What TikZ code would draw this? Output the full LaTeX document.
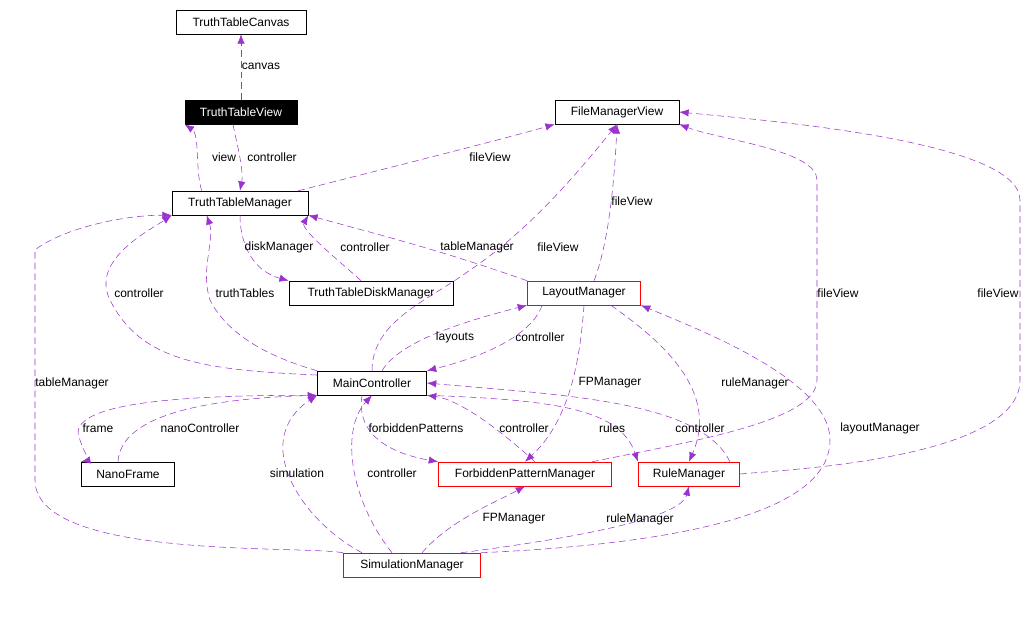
\documentclass[tikz,border=0pt]{standalone}
\usepackage{fontspec}
\setmainfont{Liberation Sans}
\usetikzlibrary{arrows.meta}
\definecolor{ep}{HTML}{9A32CD}
\begin{document}
\begin{tikzpicture}[x=0.75pt,y=-0.75pt,
  box/.style={draw=black,fill=white,minimum height=18pt,inner sep=1pt,font=\fontsize{9}{10}\selectfont},
  red/.style={box,draw=red},
  e/.style={draw=ep,dash pattern=on 5pt off 3pt,-{Latex[length=7pt,width=5.5pt]},fill=none},
  lab/.style={font=\fontsize{9}{10}\selectfont,inner sep=1pt}]
\useasboundingbox (0,0) rectangle (1031,622);
\node[box,minimum width=97.5pt] (canvas) at (241,22) {TruthTableCanvas};
\node[box,minimum width=84pt,fill=black,text=white] (ttv) at (241,112) {TruthTableView};
\node[box,minimum width=93pt] (fmv) at (617,112) {FileManagerView};
\node[box,minimum width=102pt] (ttm) at (240,203) {TruthTableManager};
\node[box,minimum width=123pt] (ttdm) at (371,293) {TruthTableDiskManager};
\node[red,minimum width=85pt] (lm) at (584,293) {LayoutManager};
\node[box,minimum width=82pt] (mc) at (372,383) {MainController};
\node[box,minimum width=70pt] (nf) at (128,474) {NanoFrame};
\node[red,minimum width=130pt] (fpm) at (525,474) {ForbiddenPatternManager};
\node[red,minimum width=76pt] (rm) at (689,474) {RuleManager};
\node[red,minimum width=103pt] (sm) at (412,565) {SimulationManager};

\draw[e] (ttv.north) -- (canvas.south);
\node[lab] (l1) at (261,66) {canvas};
\draw[e] (ttm.north west) ++(30,0) .. controls (195,170) and (200,135) .. (ttv.south west);
\node[lab] (l2) at (224,157) {view};
\draw[e] (ttv.south) ++(-8,0) .. controls (236,140) and (244,170) .. (ttm.north);
\node[lab] (l3) at (272,157) {controller};
\draw[e] (ttm.north east) ++(-10,0) .. controls (380,170) and (500,140) .. (fmv.south west);
\node[lab] (l4) at (490,157) {fileView};
\draw[e] (ttm.south) .. controls (240,240) and (250,270) .. (ttdm.north west);
\node[lab] (l5) at (279,247) {diskManager};
\draw[e] (ttdm.north) ++(-10,0) .. controls (350,270) and (300,230) .. (ttm.south east);
\node[lab] (l6) at (365,247) {controller};
\draw[e] (lm.north west) .. controls (440,250) and (380,235) .. (ttm.south east);
\node[lab] (l7) at (477,247) {tableManager};
\draw[e] (mc.north) .. controls (372,320) and (430,300) .. (470,270) .. controls (530,230) and (580,170) .. (fmv.south);
\node[lab] (l8) at (558,247) {fileView};
\draw[e] (lm.north) ++(10,0) .. controls (610,240) and (615,170) .. (fmv.south);
\node[lab] (l9) at (632,201) {fileView};
\draw[e] (mc.west) ++(0,-8) .. controls (200,370) and (140,360) .. (110,300) .. controls (90,260) and (150,230) .. (ttm.south west);
\node[lab] (l10) at (139,293) {controller};
\draw[e] (mc.north west) .. controls (280,360) and (230,340) .. (210,300) .. controls (200,270) and (215,240) .. ([xshift=-25pt]ttm.south);
\node[lab] (l11) at (245,293) {truthTables};
\draw[e] (mc.north) ++(10,0) .. controls (400,340) and (470,320) .. (lm.south west);
\node[lab] (l12) at (455,337) {layouts};
\draw[e] (lm.south west) ++(15,0) .. controls (530,340) and (470,360) .. (mc.north east);
\node[lab] (l13) at (540,337) {controller};
\draw[e] (lm.south) .. controls (580,360) and (570,420) .. (fpm.north);
\node[lab] (l14) at (610,383) {FPManager};
\draw[e] (lm.south east) ++(-30,0) .. controls (660,340) and (720,390) .. (rm.north);
\node[lab] (l15) at (755,383) {ruleManager};
\draw[e] (fpm.north east) ++(-20,0) .. controls (700,440) and (817,420) .. (817,380) -- (817,180) .. controls (817,150) and (720,140) .. (fmv.south east);
\node[lab] (l16) at (838,293) {fileView};
\draw[e] (rm.east) .. controls (780,470) and (1020,460) .. (1020,380) -- (1020,200) .. controls (1020,140) and (760,120) .. (fmv.east);
\node[lab] (l17) at (998,293) {fileView};
\draw[e] (sm.north west) .. controls (300,545) and (35,560) .. (35,480) -- (35,250) .. controls (60,230) and (120,215) .. (ttm.south west);
\node[lab] (l18) at (72,383) {tableManager};
\draw[e] (sm.north east) .. controls (650,545) and (830,520) .. (830,440) .. controls (830,380) and (700,330) .. (lm.south east);
\node[lab] (l19) at (880,428) {layoutManager};
\draw[e] (mc.south west) .. controls (200,395) and (60,400) .. (80,440) .. controls (85,455) and (90,460) .. (nf.north west);
\node[lab] (l20) at (98,428) {frame};
\draw[e] (nf.north) ++(-10,0) .. controls (120,430) and (160,400) .. (mc.south west);
\node[lab] (l21) at (200,428) {nanoController};
\draw[e] (mc.south) ++(-10,0) .. controls (355,440) and (400,455) .. (fpm.north west);
\node[lab] (l22) at (416,428) {forbiddenPatterns};
\draw[e] (fpm.north) ++(10,0) .. controls (500,430) and (460,400) .. (mc.south east);
\node[lab] (l23) at (524,428) {controller};
\draw[e] (mc.south east) .. controls (560,400) and (620,410) .. (rm.north west);
\node[lab] (l24) at (612,428) {rules};
\draw[e] (rm.north east) ++(-10,0) .. controls (700,400) and (560,395) .. (mc.east);
\node[lab] (l25) at (700,428) {controller};
\draw[e] (sm.north) ++(-50,0) .. controls (300,520) and (250,440) .. (mc.south west);
\node[lab] (l26) at (297,473) {simulation};
\draw[e] (sm.north) ++(-20,0) .. controls (350,500) and (340,430) .. (mc.south);
\node[lab] (l27) at (392,473) {controller};
\draw[e] (sm.north) ++(10,0) .. controls (450,520) and (500,500) .. (fpm.south);
\node[lab] (l28) at (514,519) {FPManager};
\draw[e] (sm.north east) ++(-20,0) .. controls (560,540) and (680,520) .. (rm.south);
\node[lab] (l29) at (640,519) {ruleManager};
\end{tikzpicture}
\end{document}
